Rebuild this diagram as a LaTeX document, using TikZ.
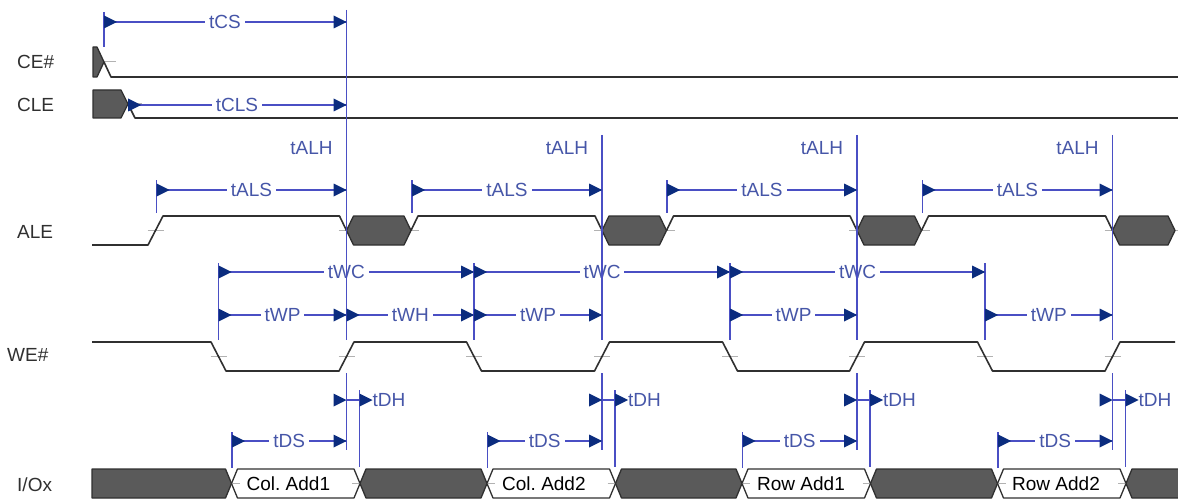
\documentclass[tikz,border=0pt]{standalone}
\usepackage{fontspec}
\setmainfont{Liberation Sans}
\frenchspacing
\definecolor{bl}{HTML}{4A4FC4}
\definecolor{nv}{HTML}{0B2C7E}
\definecolor{bt}{HTML}{4656A8}
\definecolor{gf}{HTML}{5A5A5A}
\definecolor{gd}{HTML}{303030}
\newcommand\hx[6]{%
  \path[#1] (#2,{(#4+#5)/2}) -- ({#2+#6},#4) -- ({#3-#6},#4) -- (#3,{(#4+#5)/2}) -- ({#3-#6},#5) -- ({#2+#6},#5) -- cycle;}
\newcommand\tipat[2]{\fill[nv] ({#1-13},{#2-6.5}) -- (#1,#2) -- ({#1-13},{#2+6.5}) -- cycle;}
\newcommand\baseat[2]{\fill[nv] (#1,{#2-6.5}) -- ({#1+13},#2) -- (#1,{#2+6.5}) -- cycle;}
\newcommand\tk[2]{\draw[tick] ({#1-8},#2) -- ({#1+8},#2);}
\begin{document}
\begin{tikzpicture}[x=1pt,y=-1pt,
  sig/.style={draw=gd, line width=1.6pt, line join=round},
  gbus/.style={fill=gf, draw=gd, line width=1.3pt, line join=round},
  wbus/.style={fill=white, draw=gd, line width=1.3pt, line join=round},
  dim/.style={draw=bl, line width=1.1pt},
  tick/.style={draw=gray!60, line width=1pt},
  tl/.style={text=bt, font=\fontsize{19}{21}\selectfont, inner xsep=4pt, inner ysep=1pt, text height=13.5pt, text depth=0pt, fill=white},
  tla/.style={text=bt, font=\fontsize{19}{21}\selectfont, inner sep=0pt, text height=13.5pt, text depth=0pt},
  sl/.style={text=gd, font=\fontsize{19}{21}\selectfont, anchor=west, inner sep=0pt, text height=13.5pt, text depth=0pt},
  bl/.style={text=black, font=\fontsize{19}{21}\selectfont, anchor=west, inner sep=0pt, text height=13.5pt, text depth=0pt}]
\useasboundingbox (0,0) rectangle (1178,500);

% signal labels
\node[sl] (lce) at (17,62) {CE\#};
\node[sl] (lcle) at (17,105) {CLE};
\node[sl] (lale) at (17,232) {ALE};
\node[sl] (lwe) at (7,355) {WE\#};
\node[sl] (lio) at (17,485) {I/Ox};

% ---- ticks (behind shapes)
\tk{108}{62}
\tk{134}{104}
\tk{155.5}{230.5}
\foreach \x in {346.5,602,857,1112.5} {\tk{\x}{230.5} \tk{\x+64.5}{230.5}}
\foreach \x in {218.5,346.5,474,602,730,857,985,1112.5} {\tk{\x}{356.5}}

% ---- CE#
\path[gbus] (93,47) -- (97,47) -- (104,62) -- (97,77) -- (93,77) -- cycle;
\draw[sig] (104,62) -- (111,77) -- (1178,77);
% ---- CLE
\path[gbus] (93,90) -- (121,90) -- (128,104) -- (121,118) -- (93,118) -- cycle;
\draw[sig] (128,104) -- (135,118) -- (1178,118);
% ---- ALE
\draw[sig] (92,245) -- (148,245) -- (163,216) -- (339.5,216) -- (346.5,230.5);
\draw[sig] (411,230.5) -- (418,216) -- (595,216) -- (602,230.5);
\draw[sig] (666.5,230.5) -- (673.5,216) -- (850,216) -- (857,230.5);
\draw[sig] (921.5,230.5) -- (928.5,216) -- (1105.5,216) -- (1112.5,230.5);
\hx{gbus}{346.5}{411}{216}{245}{7}
\hx{gbus}{602}{666.5}{216}{245}{7}
\hx{gbus}{857}{921.5}{216}{245}{7}
\hx{gbus}{1112.5}{1175}{216}{245}{7}
% ---- WE#
\draw[sig] (92,342) -- (211,342) -- (226,371) -- (339,371) -- (354,342) -- (466.5,342) -- (481.5,371) -- (594.5,371) -- (609.5,342) -- (722.5,342) -- (737.5,371) -- (849.5,371) -- (864.5,342) -- (977.5,342) -- (992.5,371) -- (1105,371) -- (1120,342) -- (1175,342);
% ---- I/Ox
\hx{wbus}{231.5}{360}{469}{498}{6}
\hx{wbus}{487}{615.5}{469}{498}{6}
\hx{wbus}{742}{870.5}{469}{498}{6}
\hx{wbus}{997.5}{1126}{469}{498}{6}
\foreach \c in {231.5,360,487,615.5,742,870.5,997.5,1126} {\tk{\c}{483.5}}
\path[gbus] (92,469) -- (225.5,469) -- (231.5,483.5) -- (225.5,498) -- (92,498) -- cycle;
\hx{gbus}{360}{487}{469}{498}{6}
\hx{gbus}{615.5}{742}{469}{498}{6}
\hx{gbus}{870.5}{997.5}{469}{498}{6}
\path[gbus] (1179,469) -- (1132,469) -- (1126,483.5) -- (1132,498) -- (1179,498);
\node[bl] (d1) at (246.5,484) {Col. Add1};
\node[bl] (d2) at (502,484) {Col. Add2};
\node[bl] (d3) at (757,484) {Row Add1};
\node[bl] (d4) at (1012,484) {Row Add2};

% ---- timing: horizontal lines and labels
\draw[dim] (104,22) -- (346.5,22);
\node[tl] (tcs) at (225,22) {tCS};
\draw[dim] (128,105) -- (346.5,105);
\node[tl] (tcls) at (237,105) {tCLS};
\foreach \x [count=\k] in {346.5,602,857,1112.5} {
  \draw[dim] (\x-190,190) -- (\x,190);
  \node[tl] (tals\k) at ({\x-95},190) {tALS};
  \node[tla] (talh\k) at ({\x-35},148) {tALH};
  \draw[dim] (\x-114.5,441) -- (\x,441);
  \node[tl] (tds\k) at ({\x-57.25},441) {tDS};
  \draw[dim] (\x,400) -- (\x+13,400);
  \node[tla, anchor=west] (tdh\k) at ({\x+26},400) {tDH};
}
\foreach \a/\b [count=\k] in {218.5/346.5,474/602,730/857,985/1112.5} {
  \draw[dim] (\a,315) -- (\b,315);
  \node[tl] (twp\k) at ({(\a+\b)/2},315) {tWP};
}
\draw[dim] (346.5,315) -- (474,315);
\node[tl] (twh) at (410.25,315) {tWH};
\foreach \a/\b [count=\k] in {218.5/474,474/730,730/985} {
  \draw[dim] (\a,272) -- (\b,272);
  \node[tl] (twc\k) at ({(\a+\b)/2},272) {tWC};
}

% ---- vertical reference lines
\draw[dim] (104,12) -- (104,47);
\draw[dim] (346.5,10) -- (346.5,340);
\foreach \x in {602,857,1112.5} {\draw[dim] (\x,135) -- (\x,340);}
\foreach \x in {346.5,602,857,1112.5} {
  \draw[dim] (\x,373) -- (\x,450);
  \draw[dim] (\x-190,180) -- (\x-190,213);
  \draw[dim] (\x-114.5,432) -- (\x-114.5,468);
  \draw[dim] (\x+13,390) -- (\x+13,467);
}
\foreach \f in {218.5,474,730,985} {\draw[dim] (\f,263) -- (\f,340);}

% ---- arrowheads
\baseat{104}{22} \tipat{346.5}{22}
\baseat{128}{105} \tipat{346.5}{105}
\foreach \x in {346.5,602,857,1112.5} {
  \baseat{\x-190}{190} \tipat{\x}{190}
  \baseat{\x-114.5}{441} \tipat{\x}{441}
  \tipat{\x}{400} \baseat{\x+13}{400}
}
\foreach \a/\b in {218.5/346.5,474/602,730/857,985/1112.5} {\baseat{\a}{315} \tipat{\b}{315}}
\baseat{346.5}{315} \tipat{474}{315}
\foreach \a/\b in {218.5/474,474/730,730/985} {\baseat{\a}{272} \tipat{\b}{272}}
\end{tikzpicture}
\end{document}
